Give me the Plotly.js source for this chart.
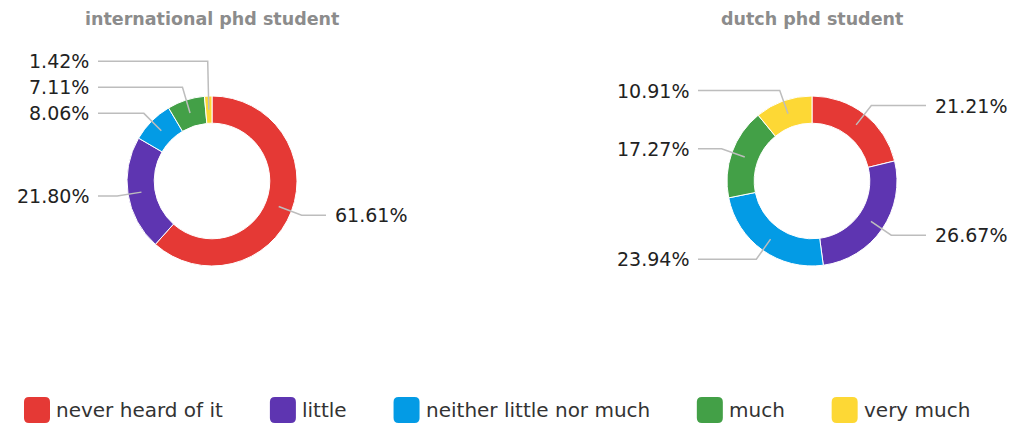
<!DOCTYPE html>
<html>
<head>
<meta charset="utf-8">
<script src="https://cdn.plot.ly/plotly-3.0.1.min.js"></script>
<style>html,body{margin:0;padding:0;background:#fff;}#chart{width:1018px;height:426px;}</style>
</head>
<body>
<div id="chart"></div>
<script>
// ---- data ----
const categories = ['never heard of it', 'little', 'neither little nor much', 'much', 'very much'];
const colors = ['#e53935', '#5e35b1', '#039be5', '#43a047', '#fdd835'];
const intlValues = [61.61, 21.80, 8.06, 7.11, 1.42];
const dutchValues = [21.21, 26.67, 23.94, 17.27, 10.91];
const chartTitles = ['international phd student', 'dutch phd student'];

// ---- layout constants ----
const W = 1018, H = 426;
const domains = [
  {x: [127 / W, 297 / W], y: [1 - 266 / H, 1 - 96 / H]},
  {x: [727 / W, 897 / W], y: [1 - 266 / H, 1 - 96 / H]}
];
const HOLE = 0.68;
const labelFont = {family: 'DejaVu Sans, sans-serif', size: 19, color: '#222'};
const legendFont = {family: 'DejaVu Sans, sans-serif', size: 20, color: '#333'};
const titleFont = {family: 'DejaVu Sans, sans-serif', size: 17.5, color: '#8c8c8c'};
const lineColor = '#bdbdbd';

const px = x => x / W;
const py = y => 1 - y / H;

const traces = [];
const shapes = [];
const annotations = [];

[intlValues, dutchValues].forEach((vals, i) => {
  const d = domains[i];
  traces.push({
    type: 'pie', values: vals, labels: categories, sort: false,
    direction: 'clockwise', rotation: 0, hole: HOLE,
    textinfo: 'none', hoverinfo: 'label+percent',
    marker: {colors: colors, line: {color: '#ffffff', width: 1}},
    domain: d, showlegend: false
  });
  const cx = (d.x[0] + d.x[1]) / 2 * W;
  const cy = (1 - (d.y[0] + d.y[1]) / 2) * H;
  const R = Math.min((d.x[1] - d.x[0]) * W, (d.y[1] - d.y[0]) * H) / 2;
  const rMid = R * (1 + HOLE) / 2;
  const rElbow = R + 11;
  const total = vals.reduce((a, b) => a + b, 0);
  let acc = 0;
  const items = vals.map((v, k) => {
    const mid = (acc + v / 2) / total * 2 * Math.PI;
    acc += v;
    const s = Math.sin(mid), c = Math.cos(mid);
    return {
      k, v, side: s >= 0 ? 1 : -1,
      x0: cx + rMid * s, y0: cy - rMid * c,
      ex: cx + rElbow * s, ey: cy - rElbow * c
    };
  });
  items.forEach(it => it.ly = it.ey);
  const GAP = 26;
  [1, -1].forEach(side => {
    const sideItems = items.filter(it => it.side === side);
    const upper = sideItems.filter(it => it.ey < cy).sort((a, b) => b.ey - a.ey);
    for (let j = 1; j < upper.length; j++) {
      if (upper[j].ly > upper[j - 1].ly - GAP) upper[j].ly = upper[j - 1].ly - GAP;
    }
    const lower = sideItems.filter(it => it.ey >= cy).sort((a, b) => a.ey - b.ey);
    for (let j = 1; j < lower.length; j++) {
      if (lower[j].ly < lower[j - 1].ly + GAP) lower[j].ly = lower[j - 1].ly + GAP;
    }
  });
  items.forEach(it => {
    const endX = cx + it.side * (R + 29);
    shapes.push({
      type: 'path', xref: 'paper', yref: 'paper',
      path: `M ${px(it.x0)} ${py(it.y0)} L ${px(it.ex)} ${py(it.ly)} L ${px(endX)} ${py(it.ly)}`,
      line: {color: lineColor, width: 1.5}
    });
    annotations.push({
      xref: 'paper', yref: 'paper', x: px(cx + it.side * (R + 36)), y: py(it.ly),
      xanchor: it.side > 0 ? 'left' : 'right', yanchor: 'middle',
      text: it.v.toFixed(2) + '%', showarrow: false, font: labelFont
    });
  });
  annotations.push({
    xref: 'paper', yref: 'paper', x: px(cx), y: py(19), xanchor: 'center', yanchor: 'middle',
    text: '<b>' + chartTitles[i] + '</b>', showarrow: false, font: titleFont
  });
});

// ---- custom legend ----
const canvas = document.createElement('canvas');
const ctx = canvas.getContext('2d');
ctx.font = legendFont.size + 'px ' + legendFont.family;
const SQ = 26, legendCY = 410;
let lx = 24;
categories.forEach((cat, k) => {
  const x0 = lx, x1 = lx + SQ, y0 = legendCY - SQ / 2, y1 = legendCY + SQ / 2, r = 5;
  const p = `M ${px(x0 + r)} ${py(y0)} L ${px(x1 - r)} ${py(y0)} Q ${px(x1)} ${py(y0)} ${px(x1)} ${py(y0 + r)} ` +
    `L ${px(x1)} ${py(y1 - r)} Q ${px(x1)} ${py(y1)} ${px(x1 - r)} ${py(y1)} L ${px(x0 + r)} ${py(y1)} ` +
    `Q ${px(x0)} ${py(y1)} ${px(x0)} ${py(y1 - r)} L ${px(x0)} ${py(y0 + r)} Q ${px(x0)} ${py(y0)} ${px(x0 + r)} ${py(y0)} Z`;
  shapes.push({type: 'path', xref: 'paper', yref: 'paper', path: p, fillcolor: colors[k], line: {width: 0}});
  const tx = x1 + 4;
  annotations.push({
    xref: 'paper', yref: 'paper', x: px(tx), y: py(legendCY), xanchor: 'left', yanchor: 'middle',
    text: cat, showarrow: false, font: legendFont
  });
  lx = tx + ctx.measureText(cat).width + 49;
});

Plotly.newPlot('chart', traces, {
  width: W, height: H, margin: {l: 0, r: 0, t: 0, b: 0},
  paper_bgcolor: '#ffffff', plot_bgcolor: '#ffffff',
  showlegend: false, shapes, annotations
}, {displayModeBar: false, staticPlot: true});
</script>
</body>
</html>
